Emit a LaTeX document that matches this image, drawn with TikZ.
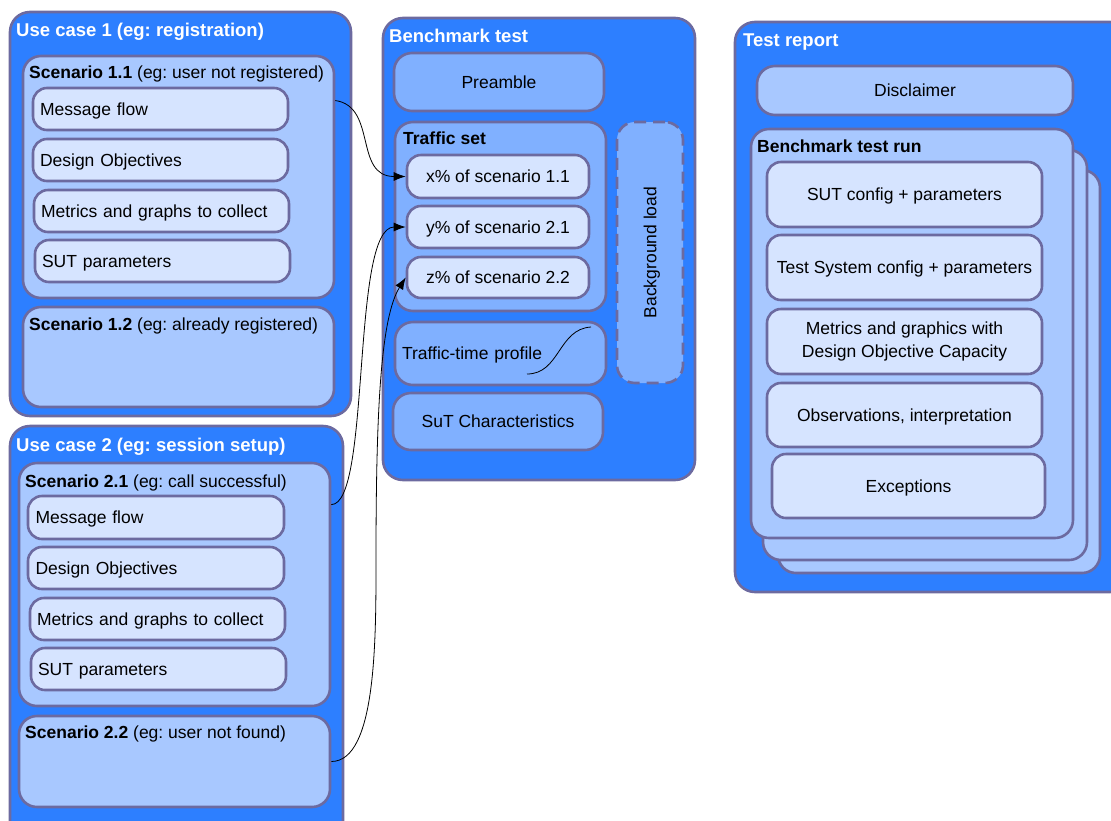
\documentclass[tikz,border=0pt]{standalone}
\usepackage{fontspec}
\setmainfont{Liberation Sans}
\frenchspacing
\usetikzlibrary{arrows.meta}
\definecolor{ucblue}{RGB}{45,127,255}
\definecolor{scblue}{RGB}{168,200,255}
\definecolor{itblue}{RGB}{214,228,255}
\definecolor{mdblue}{RGB}{128,176,255}
\definecolor{edgegray}{RGB}{108,106,160}

\begin{document}
\begin{tikzpicture}[x=1pt,y=-1pt,
  font=\fontsize{17.5}{20}\selectfont,
  area/.style args={#1/#2/#3/#4}{at={({(#1+#3)/2},{(#2+#4)/2})},
    minimum width={(#3-#1)*1pt}, minimum height={(#4-#2)*1pt}},
  box/.style={draw=edgegray, line width=2.6pt, rounded corners=14pt, inner sep=0pt},
  capht/.style={text height=12.5pt, text depth=0pt},
  usecase/.style={box, fill=ucblue, rounded corners=20pt},
  scen/.style={box, fill=scblue, rounded corners=18pt},
  item/.style={box, capht, fill=itblue},
  litem/.style={item, text width=241pt, align=left},
  part/.style={box, capht, fill=mdblue, rounded corners=18pt},
  head/.style={anchor=base west, inner sep=0pt, text=white, font=\fontsize{18.5}{20}\selectfont\bfseries},
  sub/.style={anchor=base west, inner sep=0pt},
  conn/.style={black, line width=0.8pt, -{Latex[length=12pt,width=9pt]}}]

\useasboundingbox (0,0) rectangle (1111,820);

% use case 1
\node[usecase, area=10/12/351/416] (uc1) {};
\node[head] (uc1t) at (16,36) {Use case 1 (eg: registration)};
\node[scen, area=23/56/334/298] (sc11) {};
\node[sub] (sc11t) at (29,78) {\textbf{Scenario 1.1} (eg: user not registered)};
\node[litem, area=33/88/288/130] (mf1) {Message flow};
\node[litem, area=33/139/288/181] (do1) {Design Objectives};
\node[litem, area=34/190/289/232] (mg1) {Metrics and graphs to collect};
\node[litem, area=35/240/290/282] (sp1) {SUT parameters};
\node[scen, area=23/307/334/407] (sc12) {};
\node[sub] (sc12t) at (29,330) {\textbf{Scenario 1.2} (eg: already registered)};

% use case 2
\node[usecase, area=10/426/343/845] (uc2) {};
\node[head] (uc2t) at (16,451) {Use case 2 (eg: session setup)};
\node[scen, area=19/463/330/706] (sc21) {};
\node[sub] (sc21t) at (25,487) {\textbf{Scenario 2.1} (eg: call successful)};
\node[litem, area=28/496/284/539] (mf2) {Message flow};
\node[litem, area=28/547/284/589] (do2) {Design Objectives};
\node[litem, area=30/598/285/640] (mg2) {Metrics and graphs to collect};
\node[litem, area=31/648/286/690] (sp2) {SUT parameters};
\node[scen, area=19/716/330/807] (sc22) {};
\node[sub] (sc22t) at (25,738) {\textbf{Scenario 2.2} (eg: user not found)};

% benchmark test
\node[usecase, area=383/18/695/480] (bt) {};
\node[head] (btt) at (389,42) {Benchmark test};
\node[part, area=394/53/604/111] (pre) {Preamble};
\node[part, area=395/122/606/311] (ts) {};
\node[sub] (tst) at (403,144) {\textbf{Traffic set}};
\node[item, area=407/155/589/198] (tx) {x\% of scenario 1.1};
\node[item, area=407/206/589/248] (ty) {y\% of scenario 2.1};
\node[item, area=407/257/589/298] (tz) {z\% of scenario 2.2};
\node[part, text width=197pt, align=left, area=395/322/606/385] (tp) {Traffic-time profile};
\draw[black, line width=0.8pt] (527,374) .. controls (560,374) and (558,329) .. (591,327);
\node[part, area=393/393/603/450] (suc) {SuT Characteristics};
\node[part, dash pattern=on 12pt off 7pt, area=617/122/683/383] (bg) {};
\node[rotate=90, capht, inner sep=0pt] (bgt) at (bg.center) {Background load};

% test report
\node[usecase, area=735/22/1130/592] (tr) {};
\node[head] (trt) at (743,46) {Test report};
\node[scen, capht, area=757/66/1073/115] (dis) {Disclaimer};
\node[scen, area=778/170/1100/573] (run3) {};
\node[scen, area=763/150/1087/560] (run2) {};
\node[scen, area=751/129/1073/538] (run1) {};
\node[sub] (run1t) at (757,152) {\textbf{Benchmark test run}};
\node[item, area=767/162/1042/227] (rc1) {SUT config + parameters};
\node[item, area=767/235/1042/300] (rc2) {Test System config + parameters};
\node[box, fill=itblue, align=center, font=\fontsize{17.5}{23}\selectfont, area=767/309/1042/374] (rc3) {Metrics and graphics with\\Design Objective Capacity};
\node[item, area=767/383/1042/447] (rc4) {Observations, interpretation};
\node[item, area=772/454/1045/518] (rc5) {Exceptions};

% connectors
\coordinate (zbend) at (376,560);
\draw[conn] (sc11.26) .. controls +(42,6) and +(-52,0) .. (tx.west);
\draw[conn] (sc21.27) .. controls +(40,0) and +(-55,0) .. (ty.west);
\draw[conn] (sc22.east) .. controls +(45,0) and +(0,80) .. (zbend) .. controls +(0,-150) and +(-25,40) .. (tz.west);
\end{tikzpicture}
\end{document}
